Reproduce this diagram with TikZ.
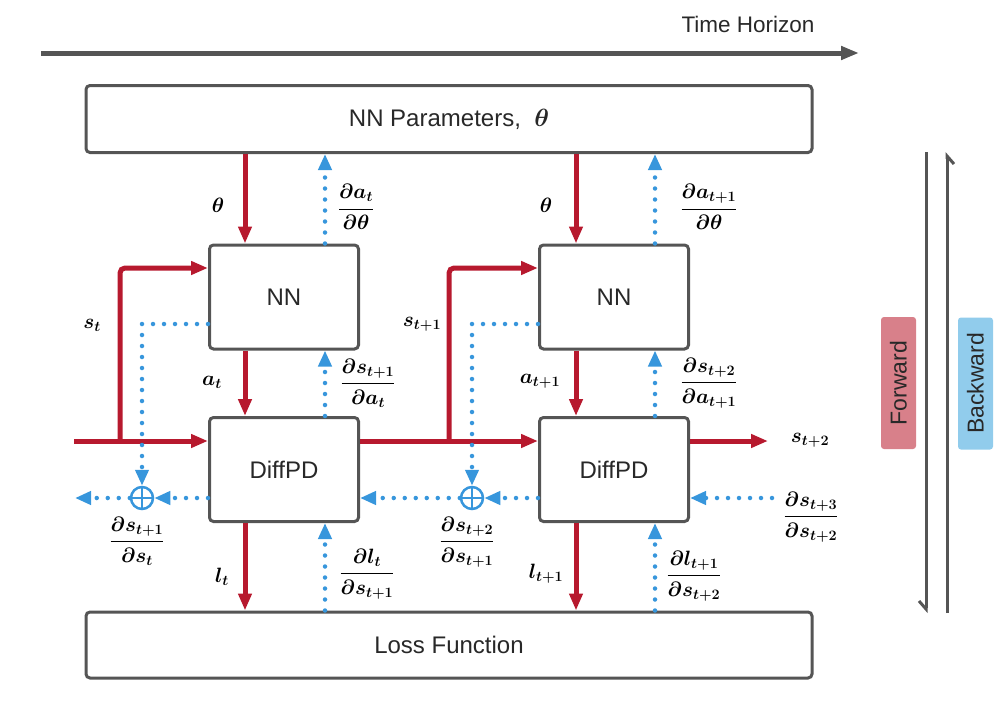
\documentclass[tikz,border=0pt]{standalone}
\usepackage{amsmath}
\usepackage{bm}
\usepackage{fontspec}
\setmainfont{Liberation Sans}
\usetikzlibrary{arrows.meta,calc}
\definecolor{myred}{RGB}{183,25,46}
\definecolor{myblue}{RGB}{55,150,220}
\definecolor{boxgray}{RGB}{85,85,85}
\definecolor{txt}{RGB}{40,40,40}
\definecolor{fwdfill}{RGB}{216,128,138}
\definecolor{bwdfill}{RGB}{145,204,236}
\tikzset{
  box/.style={draw=boxgray, line width=3pt, rounded corners=4pt, inner sep=0pt,
    minimum width=149pt, minimum height=104pt, font=\fontsize{24}{28}\selectfont, text=txt},
  widebox/.style={box, minimum width=726pt, minimum height=67pt},
  redarrow/.style={draw=myred, line width=5pt, -{Triangle[length=17pt,width=13pt]}},
  bluearrow/.style={draw=myblue, line width=4.5pt, line cap=round, dash pattern=on 0pt off 11pt,
    -{Triangle[length=16pt,width=13pt]}},
  lbl/.style={font=\fontsize{22}{26}\selectfont\boldmath, inner sep=0pt, text=black},
  oplusnode/.style={circle, draw=myblue, line width=2.5pt, minimum size=22pt, inner sep=0pt, fill=white},
  gline/.style={draw=boxgray, line width=3pt},
  tag/.style={rotate=90, rounded corners=3pt, inner sep=0pt, minimum width=132pt, minimum height=35pt,
    font=\fontsize{23}{27}\selectfont, text=txt},
}
\begin{document}
\begin{tikzpicture}[x=1pt,y=-1pt]
\useasboundingbox (0,0) rectangle (998,704);

% time horizon
\node[font=\fontsize{22.5}{26}\selectfont, text=txt, inner sep=0pt] (th) at (748,24) {Time Horizon};
\coordinate (ths) at (41,53);
\coordinate (the) at (859,53);
\draw[gline, line width=5pt, -{Triangle[length=18pt,width=13pt]}] (ths) -- (the);

% boxes
\node[widebox] (nnp) at (449,119) {NN Parameters,~ {\boldmath$\bm{\theta}$}};
\node[widebox, minimum height=66pt] (loss) at (449,645) {Loss Function};
\node[box] (nn1) at (284,297) {NN};
\node[box] (df1) at (284,469.5) {DiffPD};
\node[box] (nn2) at (614,297) {NN};
\node[box] (df2) at (614,469.5) {DiffPD};

% helper coordinates (columns / rows)
\coordinate (c1) at (245,0);
\coordinate (c2) at (325,0);
\coordinate (c3) at (576,0);
\coordinate (c4) at (655,0);
\coordinate (r1) at (0,268);
\coordinate (r2) at (0,324);
\coordinate (r3) at (0,441);
\coordinate (r4) at (0,498);

% theta / da/dtheta
\draw[redarrow] (nnp.south -| c1) -- (nn1.north -| c1);
\draw[bluearrow] (nn1.north -| c2) -- (nnp.south -| c2);
\draw[redarrow] (nnp.south -| c3) -- (nn2.north -| c3);
\draw[bluearrow] (nn2.north -| c4) -- (nnp.south -| c4);

% a / ds/da
\draw[redarrow] (nn1.south -| c1) -- (df1.north -| c1);
\draw[bluearrow] (df1.north -| c2) -- (nn1.south -| c2);
\draw[redarrow] (nn2.south -| c3) -- (df2.north -| c3);
\draw[bluearrow] (df2.north -| c4) -- (nn2.south -| c4);

% l / dl/ds
\draw[redarrow] (df1.south -| c1) -- (loss.north -| c1);
\draw[bluearrow] (loss.north -| c2) -- (df1.south -| c2);
\draw[redarrow] (df2.south -| c3) -- (loss.north -| c3);
\draw[bluearrow] (loss.north -| c4) -- (df2.south -| c4);

% forward state flow
\coordinate (sin) at (74,441);
\coordinate (b1) at (120,441);
\coordinate (b2) at (449,441);
\coordinate (sout) at (768,441);
\draw[redarrow] (sin) -- (df1.west |- r3);
\draw[redarrow, rounded corners=5pt] (b1) |- (nn1.west |- r1);
\draw[redarrow] (df1.east |- r3) -- (df2.west |- r3);
\draw[redarrow, rounded corners=5pt] (b2) |- (nn2.west |- r1);
\draw[redarrow] (df2.east |- r3) -- (sout);

% backward state flow
\node[oplusnode] (op1) at (142,498) {};
\node[oplusnode] (op2) at (472,498) {};
\draw[myblue, line width=2.5pt] (op1.north) -- (op1.south) (op1.west) -- (op1.east);
\draw[myblue, line width=2.5pt] (op2.north) -- (op2.south) (op2.west) -- (op2.east);
\coordinate (bout) at (75,498);
\coordinate (bin) at (772,498);
\draw[bluearrow] (nn1.west |- r2) -| (op1.north);
\draw[bluearrow] (nn2.west |- r2) -| (op2.north);
\draw[bluearrow] (df1.west |- r4) -- (op1.east);
\draw[bluearrow] (op1.west) -- (bout);
\draw[bluearrow] (df2.west |- r4) -- (op2.east);
\draw[bluearrow] (op2.west) -- (df1.east |- r4);
\draw[bluearrow] (bin) -- (df2.east |- r4);

% labels
\node[lbl] (lth1) at (218,205) {$\bm{\theta}$};
\node[lbl] (lda1) at (356,207) {$\dfrac{\partial \bm{a}_t}{\partial \bm{\theta}}$};
\node[lbl] (lth2) at (546,205) {$\bm{\theta}$};
\node[lbl] (lda2) at (709,207) {$\dfrac{\partial \bm{a}_{t+1}}{\partial \bm{\theta}}$};
\node[lbl] (lst) at (92,325) {$\bm{s}_t$};
\node[lbl] (lat) at (212,382) {$\bm{a}_t$};
\node[lbl] (ldsa1) at (368,383) {$\dfrac{\partial \bm{s}_{t+1}}{\partial \bm{a}_t}$};
\node[lbl] (lst1) at (422,324) {$\bm{s}_{t+1}$};
\node[lbl] (lat1) at (540,381) {$\bm{a}_{t+1}$};
\node[lbl] (ldsa2) at (709,383) {$\dfrac{\partial \bm{s}_{t+2}}{\partial \bm{a}_{t+1}}$};
\node[lbl] (ldss1) at (137,541) {$\dfrac{\partial \bm{s}_{t+1}}{\partial \bm{s}_t}$};
\node[lbl] (ldss2) at (467,542) {$\dfrac{\partial \bm{s}_{t+2}}{\partial \bm{s}_{t+1}}$};
\node[lbl] (llt) at (222,577) {$l_t$};
\node[lbl] (ldl1) at (367,574) {$\dfrac{\partial l_t}{\partial \bm{s}_{t+1}}$};
\node[lbl] (llt1) at (546,574) {$l_{t+1}$};
\node[lbl] (ldl2) at (694,576) {$\dfrac{\partial l_{t+1}}{\partial \bm{s}_{t+2}}$};
\node[lbl] (lst2) at (810,440) {$\bm{s}_{t+2}$};
\node[lbl] (ldss3) at (811,517) {$\dfrac{\partial \bm{s}_{t+3}}{\partial \bm{s}_{t+2}}$};

% forward / backward
\coordinate (ft) at (926,152);
\coordinate (fb) at (926,613);
\coordinate (bt) at (947,152);
\coordinate (bb) at (947,613);
\draw[gline, -{Straight Barb[right,length=8pt,width=14pt]}] (ft) -- (fb);
\draw[gline, -{Straight Barb[right,length=8pt,width=14pt]}] (bb) -- (bt);
\node[tag, fill=fwdfill] (fw) at (898.5,383) {Forward};
\node[tag, fill=bwdfill] (bw) at (975.5,383.5) {Backward};
\end{tikzpicture}
\end{document}
